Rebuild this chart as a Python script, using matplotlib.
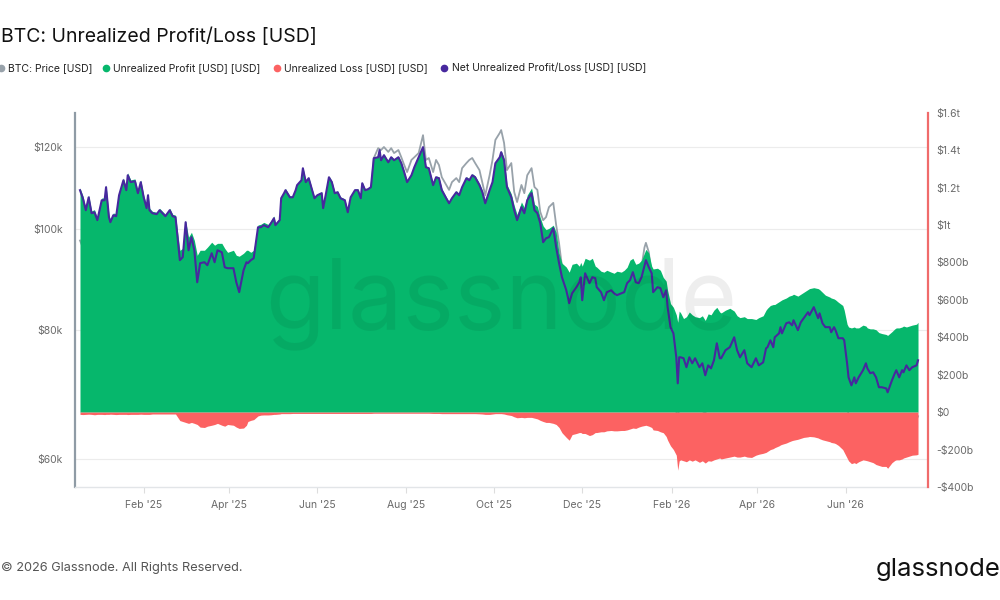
import matplotlib
matplotlib.use("Agg")
import matplotlib.pyplot as plt
from matplotlib.lines import Line2D
import matplotlib.ticker as mticker
import pandas as pd

plt.rcParams['font.family'] = ['Inter', 'DejaVu Sans']

START = pd.Timestamp("2024-12-19")

# ---------------- data ----------------
# days since START, net unrealized P/L, unrealized profit, unrealized loss (USD billions)
day = [0, 2, 4, 6, 8, 10, 12, 15, 17, 18,
       20, 21, 23, 25, 27, 30, 32, 33, 35, 38,
       40, 42, 44, 46, 47, 48, 50, 53, 55, 57,
       59, 62, 64, 66, 69, 71, 73, 75, 77, 79,
       81, 83, 86, 88, 91, 93, 95, 98, 100, 102,
       106, 108, 110, 113, 115, 116, 118, 120, 123, 125,
       127, 130, 132, 134, 135, 138, 139, 141, 142, 145,
       147, 149, 150, 153, 154, 156, 158, 162, 164, 167,
       168, 170, 172, 174, 176, 178, 180, 183, 185, 187,
       190, 192, 194, 195, 197, 199, 201, 203, 206, 207,
       208, 210, 213, 215, 217, 220, 222, 224, 226, 229,
       231, 234, 237, 239, 241, 244, 246, 248, 250, 253,
       255, 257, 260, 262, 264, 267, 269, 271, 273, 276,
       278, 280, 283, 285, 287, 290, 291, 293, 295, 298,
       300, 302, 305, 307, 309, 312, 314, 316, 318, 320,
       322, 324, 327, 329, 331, 333, 336, 338, 340, 343,
       345, 346, 347, 349, 352, 354, 356, 357, 360, 362,
       364, 367, 369, 371, 374, 376, 378, 380, 382, 384,
       386, 388, 391, 393, 395, 396, 399, 401, 403, 405,
       406, 408, 410, 412, 413, 414, 415, 417, 419, 421,
       423, 425, 428, 430, 432, 434, 436, 438, 440, 442,
       443, 446, 449, 452, 454, 456, 459, 461, 464, 467,
       469, 472, 474, 475, 477, 479, 480, 483, 484, 485,
       488, 490, 492, 493, 496, 498, 500, 503, 504, 507,
       510, 511, 513, 515, 518, 519, 521, 522, 524, 527,
       528, 530, 531, 533, 535, 536, 538, 541, 543, 544,
       546, 548, 550, 552, 554, 557, 558, 561, 563, 564,
       566, 568, 569, 571, 573, 575, 578, 579]

net_bn = [1186, 1143, 1079, 1148, 1063, 1068, 1026, 1132, 1132, 1202,
          1042, 1015, 1052, 1047, 1159, 1239, 1186, 1266, 1229, 1234,
          1170, 1229, 1148, 1090, 1159, 1079, 1063, 1058, 1079, 1063,
          1047, 1079, 1047, 1042, 812, 828, 1015, 865, 935, 865,
          694, 796, 801, 785, 849, 801, 865, 854, 774, 769,
          769, 694, 641, 758, 801, 796, 812, 822, 988, 988,
          999, 988, 1010, 1036, 999, 1026, 1143, 1170, 1186, 1148,
          1148, 1186, 1213, 1239, 1303, 1229, 1250, 1143, 1159, 1170,
          1090, 1170, 1255, 1229, 1170, 1175, 1143, 1132, 1068, 1148,
          1186, 1186, 1143, 1223, 1186, 1191, 1202, 1357, 1362, 1400,
          1346, 1373, 1335, 1362, 1346, 1362, 1330, 1282, 1229, 1266,
          1309, 1362, 1416, 1309, 1303, 1213, 1255, 1250, 1186, 1143,
          1116, 1143, 1175, 1159, 1202, 1250, 1239, 1266, 1255, 1213,
          1175, 1116, 1186, 1229, 1330, 1362, 1389, 1346, 1202, 1148,
          1079, 1026, 1095, 1063, 1132, 1170, 1079, 1063, 1010, 908,
          929, 935, 983, 881, 796, 721, 651, 582, 635, 668,
          694, 721, 598, 742, 689, 721, 716, 668, 641, 598,
          641, 651, 635, 625, 635, 641, 689, 705, 748, 694,
          689, 721, 812, 774, 742, 641, 668, 662, 614, 651,
          561, 454, 421, 293, 154, 293, 293, 288, 240, 293,
          261, 288, 240, 261, 197, 250, 234, 277, 368, 288,
          288, 331, 347, 400, 331, 293, 331, 261, 240, 288,
          250, 266, 341, 347, 384, 347, 400, 421, 454, 421,
          475, 480, 464, 491, 438, 480, 502, 534, 518, 561,
          502, 528, 475, 454, 454, 427, 454, 438, 395, 395,
          384, 261, 186, 143, 186, 154, 186, 224, 261, 234,
          208, 213, 186, 133, 133, 127, 106, 170, 208, 224,
          186, 224, 213, 250, 224, 240, 250, 277]

profit_bn = [1198, 1156, 1091, 1159, 1075, 1082, 1038, 1144, 1145, 1214,
             1054, 1026, 1064, 1060, 1171, 1251, 1198, 1279, 1241, 1246,
             1182, 1240, 1160, 1102, 1171, 1091, 1073, 1068, 1089, 1073,
             1057, 1089, 1057, 1052, 865, 875, 1020, 935, 961, 918,
             838, 865, 865, 881, 908, 892, 902, 902, 875, 854,
             865, 838, 833, 849, 865, 865, 854, 865, 1000, 1004,
             1014, 1003, 1024, 1048, 1011, 1036, 1151, 1178, 1194, 1156,
             1155, 1193, 1220, 1246, 1310, 1236, 1257, 1150, 1166, 1177,
             1097, 1177, 1262, 1236, 1177, 1182, 1150, 1139, 1075, 1155,
             1193, 1193, 1150, 1230, 1193, 1198, 1209, 1363, 1368, 1406,
             1352, 1379, 1341, 1368, 1352, 1368, 1336, 1288, 1235, 1272,
             1315, 1368, 1422, 1315, 1309, 1220, 1262, 1257, 1194, 1151,
             1124, 1151, 1183, 1167, 1210, 1258, 1247, 1274, 1263, 1222,
             1185, 1128, 1198, 1239, 1338, 1370, 1397, 1356, 1216, 1166,
             1104, 1056, 1123, 1093, 1160, 1198, 1111, 1099, 1040, 995,
             975, 982, 999, 961, 850, 796, 775, 748, 790, 796,
             780, 800, 780, 822, 812, 822, 780, 775, 753, 748,
             758, 748, 742, 753, 748, 758, 774, 812, 822, 790,
             796, 812, 870, 850, 780, 765, 769, 758, 720, 700,
             650, 580, 560, 520, 480, 540, 530, 500, 510, 535,
             520, 510, 505, 515, 490, 525, 520, 545, 560, 535,
             530, 545, 555, 540, 515, 505, 510, 500, 500, 495,
             505, 515, 545, 555, 570, 575, 575, 590, 595, 600,
             610, 620, 625, 630, 620, 630, 640, 655, 660, 665,
             660, 655, 640, 625, 615, 610, 605, 600, 587, 570,
             545, 470, 455, 450, 455, 450, 450, 465, 460, 450,
             445, 445, 440, 425, 420, 415, 410, 430, 445, 450,
             450, 455, 460, 455, 460, 465, 470, 480]

loss_bn = [12, 13, 12, 11, 12, 14, 12, 12, 13, 12,
           12, 11, 12, 13, 12, 12, 12, 13, 12, 12,
           12, 11, 12, 12, 12, 12, 10, 10, 10, 10,
           10, 10, 10, 10, 45, 50, 55, 60, 55, 60,
           66, 80, 82, 75, 70, 66, 60, 70, 75, 66,
           70, 80, 87, 85, 70, 50, 44, 40, 20, 16,
           15, 15, 14, 12, 12, 10, 8, 8, 8, 8,
           7, 7, 7, 7, 7, 7, 7, 7, 7, 7,
           7, 7, 7, 7, 7, 7, 7, 7, 7, 7,
           7, 7, 7, 7, 7, 7, 7, 6, 6, 6,
           6, 6, 6, 6, 6, 6, 6, 6, 6, 6,
           6, 6, 6, 6, 6, 7, 7, 7, 8, 8,
           8, 8, 8, 8, 8, 8, 8, 8, 8, 9,
           10, 12, 12, 10, 8, 8, 8, 10, 14, 18,
           25, 30, 28, 30, 28, 28, 32, 36, 44, 50,
           55, 55, 60, 66, 82, 110, 135, 150, 120, 114,
           109, 109, 114, 114, 125, 120, 109, 109, 105, 105,
           100, 98, 100, 100, 98, 98, 95, 90, 85, 87,
           80, 75, 70, 75, 82, 95, 98, 105, 110, 130,
           150, 180, 200, 230, 310, 260, 255, 260, 265, 255,
           262, 255, 268, 260, 272, 260, 262, 255, 250, 245,
           250, 245, 240, 235, 240, 240, 235, 240, 242, 230,
           225, 220, 215, 210, 200, 195, 190, 180, 175, 172,
           165, 158, 152, 150, 145, 140, 135, 132, 130, 132,
           138, 142, 148, 152, 158, 162, 165, 168, 178, 200,
           215, 245, 260, 275, 270, 275, 265, 255, 258, 260,
           265, 270, 280, 285, 290, 290, 300, 270, 258, 255,
           255, 250, 245, 240, 235, 230, 228, 225]

# BTC price (USD thousands), days since START
price_day = [0, 4, 7, 11, 14, 18, 21, 25, 28, 32,
             35, 39, 42, 46, 50, 56, 60, 64, 67, 70,
             73, 76, 80, 84, 89, 93, 97, 102, 106, 109,
             112, 116, 120, 124, 128, 133, 137, 141, 145, 150,
             154, 159, 163, 168, 172, 177, 181, 185, 189, 194,
             198, 201,
             203, 206, 208, 210, 213, 215, 217, 220, 222, 224,
             226, 229, 231, 234, 237, 239, 241, 244, 246, 248,
             250, 253, 255, 257, 260, 262, 264, 267, 269, 271,
             273, 276, 278, 280, 283, 285, 287, 290, 291, 293,
             295, 298, 300, 302, 305, 307, 309, 312, 314, 316,
             318, 320, 322, 324, 327, 329, 331,
             333, 336, 339, 341, 344, 347, 350, 354, 358, 362,
             366, 370, 374, 378, 382, 385, 388, 390, 391, 393,
             395, 399, 403, 406, 409, 411, 413, 414, 416, 420,
             424, 428, 432, 436, 440, 444, 448, 452, 456, 460,
             464, 468, 472, 476, 480, 484, 488, 492, 496, 500,
             504, 508, 512, 516, 520, 524, 528, 531, 534, 537,
             541, 545, 549, 553, 556, 558, 560, 564, 568, 572,
             576, 579]

price_k = [97.5, 94.5, 96.0, 92.5, 96.9, 102.0, 92.5, 94.5, 100.0, 106.0,
           103.0, 101.0, 104.7, 97.0, 96.5, 96.5, 95.7, 96.0, 91.5, 84.5,
           94.0, 90.0, 80.7, 81.0, 82.5, 84.0, 87.0, 82.5, 83.8, 78.0,
           79.5, 84.5, 84.5, 93.5, 94.7, 96.5, 94.3, 103.0, 104.0, 106.0,
           111.0, 108.9, 104.5, 101.5, 110.0, 105.5, 104.8, 100.9, 107.0, 105.7,
           108.0, 108.2,
           117.1, 119.7, 119.2, 120.0, 118.7, 119.7, 118.4, 119.2, 117.3, 115.3,
           113.5, 116.6, 117.3, 118.4, 123.2, 116.6, 117.1, 113.5, 116.6, 115.3,
           112.2, 110.3, 109.1, 111.0, 112.0, 111.0, 114.5, 115.8, 116.6, 117.1,
           115.8, 114.0, 110.8, 107.8, 112.7, 116.6, 121.9, 123.8, 124.6, 121.1,
           114.0, 115.8, 108.6, 106.2, 110.3, 108.3, 112.7, 114.5, 109.8, 109.1,
           103.9, 102.0, 102.7, 105.0, 106.0, 100.9, 96.9,
           92.0, 90.0, 86.0, 84.0, 87.5, 86.5, 91.5, 92.5, 89.5, 88.5,
           87.0, 87.5, 88.0, 87.5, 89.0, 91.5, 92.0, 96.0, 97.0, 95.0,
           90.0, 89.5, 88.5, 84.0, 78.0, 73.0, 62.0, 70.0, 69.5, 67.5,
           68.5, 67.0, 66.5, 68.0, 71.0, 70.0, 71.0, 72.5, 69.0, 67.5,
           67.0, 68.0, 69.5, 72.5, 74.0, 76.0, 77.5, 77.0, 77.0, 79.0,
           79.5, 80.0, 78.0, 77.0, 76.0, 74.0, 73.0, 66.0, 63.5, 64.5,
           66.0, 65.0, 63.5, 61.5, 60.5, 59.0, 61.0, 63.5, 63.0, 64.0,
           64.5, 66.0]

x_tick_dates = ["2025-02-01", "2025-04-01", "2025-06-01", "2025-08-01", "2025-10-01",
                "2025-12-01", "2026-02-01", "2026-04-01", "2026-06-01"]
x_tick_labels = ["Feb '25", "Apr '25", "Jun '25", "Aug '25", "Oct '25",
                 "Dec '25", "Feb '26", "Apr '26", "Jun '26"]
price_ticks_k = [60, 80, 100, 120]
price_tick_labels = ["$60k", "$80k", "$100k", "$120k"]
pnl_ticks_bn = [-400, -200, 0, 200, 400, 600, 800, 1000, 1200, 1400, 1600]
pnl_tick_labels = ["-$400b", "-$200b", "$0", "$200b", "$400b", "$600b", "$800b",
                   "$1t", "$1.2t", "$1.4t", "$1.6t"]
legend_labels = ["BTC: Price [USD]", "Unrealized Profit [USD] [USD]",
                 "Unrealized Loss [USD] [USD]", "Net Unrealized Profit/Loss [USD] [USD]"]

C_PRICE = "#98a2aa"
C_PROFIT = "#06b76c"
C_LOSS = "#fc6262"
C_NET = "#47289e"
C_TEXT = "#6a6a6a"

dates = START + pd.to_timedelta(day, unit="D")
pdates = START + pd.to_timedelta(price_day, unit="D")

fig = plt.figure(figsize=(10, 6), dpi=100)
ax = fig.add_axes([0.075, 1 - 487 / 600, 0.853, (487 - 112.7) / 600])
ax2 = ax.twinx()

# price (left, log)
ax.plot(pdates, price_k, color=C_PRICE, lw=1.3, zorder=2)
ax.set_yscale("log")
ax.set_ylim(56.4, 129.5)
ax.yaxis.set_major_locator(mticker.FixedLocator(price_ticks_k))
ax.yaxis.set_major_formatter(mticker.FixedFormatter(price_tick_labels))
ax.yaxis.set_minor_locator(mticker.NullLocator())
ax.grid(axis="y", color="#ececec", lw=0.8)
ax.set_axisbelow(True)

# areas + net line (right, linear)
neg_loss = [-v for v in loss_bn]
ax2.fill_between(dates, 0, profit_bn, color=C_PROFIT, lw=0)
ax2.fill_between(dates, 0, neg_loss, color=C_LOSS, lw=0)
ax2.plot(dates, net_bn, color=C_NET, lw=1.5)
ax2.set_ylim(-400, 1600)
ax2.yaxis.set_major_locator(mticker.FixedLocator(pnl_ticks_bn))
ax2.yaxis.set_major_formatter(mticker.FixedFormatter(pnl_tick_labels))

ax.set_xlim(START - pd.Timedelta(days=3.45), START + pd.Timedelta(days=585.9))
ax.set_xticks(pd.to_datetime(x_tick_dates))
ax.set_xticklabels(x_tick_labels)

for a in (ax, ax2):
    a.spines["top"].set_visible(False)
ax.spines["right"].set_visible(False)
ax2.spines["left"].set_visible(False)
ax2.spines["bottom"].set_visible(False)
ax.spines["left"].set_color("#8f9ba5")
ax.spines["left"].set_linewidth(1.6)
ax.spines["bottom"].set_color("#e2e5e8")
ax.spines["bottom"].set_linewidth(1.0)
ax2.spines["right"].set_color("#f06b6b")
ax2.spines["right"].set_linewidth(1.6)

ax.tick_params(axis="x", length=4, color="#dddddd", labelsize=7.5, labelcolor=C_TEXT, pad=5)
ax.tick_params(axis="y", length=0, pad=9, labelsize=7.5, labelcolor=C_TEXT)
ax2.tick_params(axis="y", length=0, pad=6, labelsize=7.5, labelcolor=C_TEXT)

# watermark
fig.text(0.265, 1 - 328 / 600, "glassnode", fontsize=70, ha="left", va="baseline",
         color="black", alpha=0.065, zorder=5)

# title
fig.text(0.001, 1 - 37 / 600, "BTC: Unrealized Profit/Loss [USD]", fontsize=14,
         ha="left", va="center", color="#111111")

# legend
leg_colors = [C_PRICE, C_PROFIT, C_LOSS, C_NET]
dot_x = [0.001, 0.106, 0.2765, 0.444]
ly = 1 - 68 / 600
for lab, col, dx in zip(legend_labels, leg_colors, dot_x):
    fig.add_artist(Line2D([dx], [ly], marker="o", markersize=4.5, color=col, lw=0,
                          transform=fig.transFigure))
    fig.text(dx + 0.0075, ly, lab, fontsize=7.5, ha="left", va="center", color="#222222")

# footer
fig.text(0.001, 1 - 568 / 600, "\u00a9 2026 Glassnode. All Rights Reserved.", fontsize=9.2,
         ha="left", va="center", color="#555555")
fig.text(0.876, 1 - 576 / 600, "glassnode", fontsize=18.5, ha="left", va="baseline",
         color="#111111")

fig.savefig("out.png", dpi=100)
